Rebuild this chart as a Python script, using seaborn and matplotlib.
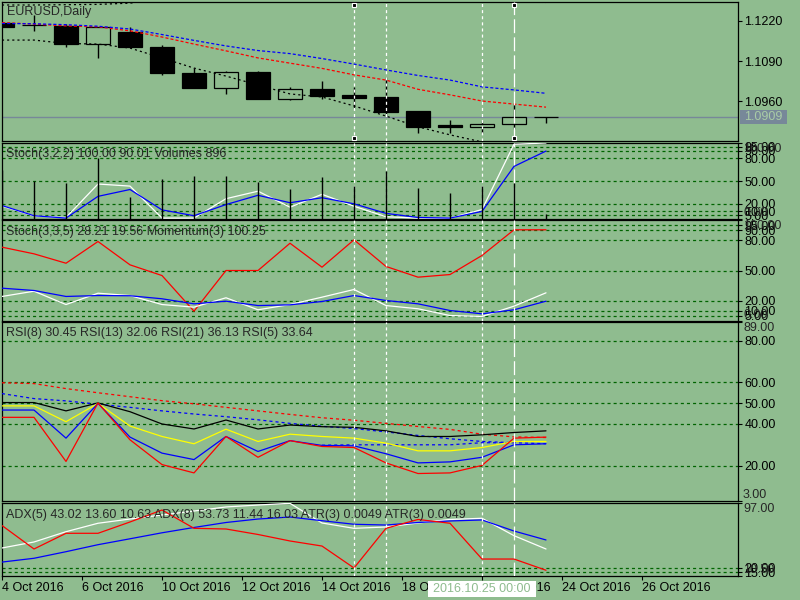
import matplotlib
matplotlib.use("Agg")
import matplotlib.pyplot as plt
from matplotlib.patches import Rectangle
import numpy as np
import seaborn as sns

BG = "#8fbc8f"
LEVEL = "#006400"
FS = 9

sns.set_theme(style="ticks", rc={"axes.facecolor": BG, "figure.facecolor": BG})
plt.rcParams["font.family"] = ["Liberation Sans", "DejaVu Sans"]
plt.rcParams["font.size"] = FS
plt.rcParams["lines.scale_dashes"] = False

#################
### Data ###
#################

# daily bars, bar 0 = 4 Oct 2016
bars = np.arange(18)

# EURUSD Daily candles
opens  = [1.1214, 1.1207, 1.1204, 1.1146, 1.1184, 1.1136, 1.1051, 1.1003, 1.1054,
          1.0965, 1.0998, 1.0980, 1.0973, 1.0927, 1.0882, 1.0876, 1.0886, 1.0909]
highs  = [1.1216, 1.1240, 1.1210, 1.1202, 1.1200, 1.1142, 1.1066, 1.1058, 1.1058,
          1.1005, 1.1025, 1.1005, 1.1037, 1.0927, 1.0898, 1.0896, 1.0949, 1.0909]
lows   = [1.1199, 1.1188, 1.1136, 1.1101, 1.1136, 1.1045, 1.1003, 1.0984, 1.0967,
          1.0963, 1.0967, 1.0936, 1.0911, 1.0857, 1.0855, 1.0856, 1.0870, 1.0890]
closes = [1.1201, 1.1207, 1.1146, 1.1200, 1.1136, 1.1052, 1.1003, 1.1054, 1.0967,
          1.0998, 1.0977, 1.0971, 1.0924, 1.0876, 1.0876, 1.0885, 1.0908, 1.0909]
ma_blue = [1.1212, 1.1211, 1.1208, 1.1203, 1.1194, 1.1176, 1.1157, 1.1139, 1.1124,
           1.1114, 1.1098, 1.1080, 1.1061, 1.1043, 1.1028, 1.1006, 1.0996, 1.0985]
ma_red  = [1.1215, 1.1210, 1.1204, 1.1201, 1.1188, 1.1168, 1.1145, 1.1123, 1.1100,
           1.1083, 1.1066, 1.1045, 1.1028, 1.0998, 1.0980, 1.0960, 1.0950, 1.0940]
band_up = [1.1272, 1.1272, 1.1273, 1.1274, 1.1278, 1.1292, 1.1300, 1.1305, 1.1310,
           1.1312, 1.1310, 1.1308, 1.1305, 1.1300, 1.1296, 1.1290, 1.1285, 1.1280]
band_lo = [1.1158, 1.1158, 1.1147, 1.1145, 1.1132, 1.1100, 1.1067, 1.1041, 1.1012,
           1.0983, 1.0973, 1.0944, 1.0911, 1.0876, 1.0850, 1.0827, 1.0812, 1.0800]
bid = 1.0909
price_ticks = [1.0960, 1.1090, 1.1220]

# Stoch(3,2,2) + Volumes
stoch1_main = [17, 4, 2, 46, 43.3, 1.2, 1.2, 26.7, 36.6, 15.5, 32.5, 16.8, 3, 1.2, 1.2, 12.4, 98.4, 100]
stoch1_sig  = [17.7, 4.3, 1.2, 29.8, 38.8, 12, 4.3, 19, 31.2, 21.4, 28, 20, 7.4, 2, 1.2, 10, 69.2, 89.4]
volumes = [9000, 6990, 6680, 11170, 4100, 7360, 7970, 7970, 6860, 5520, 7670, 6070, 8830,
           5760, 4840, 6070, 6570, 896]

# Stoch(3,3,5) + Momentum(3)
stoch2_main = [24.3, 29.5, 16.3, 27.5, 25.2, 16.3, 13.7, 23, 11.1, 16.3, 23.6, 31.2, 15.3, 12.1, 5.4, 4.5, 14.7, 27.9]
stoch2_sig  = [32.5, 30.2, 24.3, 25.2, 25, 22, 17, 19.6, 15.3, 16, 19.3, 25.2, 20.3, 17, 10.4, 7.1, 11.1, 19.6]
momentum    = [73.1, 66.5, 57.2, 78.7, 55.6, 45, 9.7, 50, 50, 77, 53.3, 80.4, 54, 43.4, 46, 64.9, 90.3, 90.3]
stoch_levels = [5, 10, 20, 50, 80, 90, 95]

# RSI
rsi5  = [43.2, 43.2, 22, 50.1, 32.4, 20.5, 16.5, 34, 24, 32, 29.2, 28.7, 21.3, 16.2, 16.5, 20.1, 33.2, 33.7]
rsi8  = [46.7, 46.7, 33.2, 49.9, 33.7, 26, 22.9, 34, 26.8, 32, 29.7, 29.5, 25.7, 21.3, 21.8, 24, 30, 30.5]
rsi13 = [48.7, 48.7, 41.1, 49.9, 39, 34, 30.5, 37.5, 31.6, 35.1, 34, 33.2, 30.8, 27.1, 27.1, 28.7, 31.6, 31.6]
rsi21 = [50.3, 50.3, 46.3, 50.1, 45.9, 40, 37.6, 41.9, 37.6, 39.5, 38.7, 38.4, 36.7, 34, 34, 34.8, 35.9, 36.7]
rsi_sig_red  = [59.8, 59.4, 57, 55, 53.1, 51.2, 49.7, 48, 46.3, 44.6, 43, 41.8, 40.3, 38.8, 37.4, 35.1, 33.8, 33.5]
rsi_sig_blue = [54.6, 52.2, 51.1, 49.5, 48, 46.3, 44.8, 43.5, 42, 40.3, 38.9, 37.8, 36.2, 34.5, 32.9, 31.6, 31, 30.5]
rsi_sig_blue2_bars = [10, 11, 12, 13, 14, 15, 16]
rsi_sig_blue2 = [29.8, 30, 30, 30, 30, 31, 31]
rsi_levels = [20, 40, 50, 60, 80]

# ADX
adx_red   = [70.3, 42.5, 61.1, 61.1, 74.5, 88.7, 67, 66.2, 59.7, 52, 46, 20, 67, 77.5, 73, 30.6, 30.6, 17.3]
adx_white = [43.7, 50.8, 63, 73, 78, 82.8, 87.5, 92.3, 94.6, 96.6, 73.3, 67, 68.6, 73.3, 77.5, 78.9, 58.3, 42.5]
adx_blue  = [27, 31.5, 39.3, 47.6, 54.6, 61.7, 68, 73.9, 78, 80.4, 76, 71.8, 70.9, 73.9, 75.7, 76.9, 63.8, 53.2]
adx_levels = [15, 20]

date_ticks = [0, 2.5, 5, 7.5, 10, 12.5, 15, 17.5, 20]
date_labels = ["4 Oct 2016", "6 Oct 2016", "10 Oct 2016", "12 Oct 2016", "14 Oct 2016",
               "18 Oct 2016", "20 Oct 2016", "24 Oct 2016", "26 Oct 2016"]

#################
### Figure ###
#################

fig = plt.figure(figsize=(8, 6), dpi=100)


def panel(top, bottom):
    return fig.add_axes([2 / 800, 1 - bottom / 600, 736 / 800, (bottom - top) / 600])


ax1 = panel(2, 141)
ax2 = panel(143, 219)
ax3 = panel(220, 321)
ax4 = panel(322, 501)
ax5 = panel(503, 576)
axes = [ax1, ax2, ax3, ax4, ax5]

ax2v = ax2.twinx()


def line(ax, x, y, color, dash=None, lw=0.9, z=4):
    sns.lineplot(x=x, y=y, ax=ax, color=color, linewidth=lw, errorbar=None, zorder=z)
    if dash:
        ax.lines[-1].set_dashes(dash)


# price panel
o = np.array(opens); c = np.array(closes)
bull = c > o
ax1.vlines(bars, lows, highs, color="black", lw=1, zorder=2)
ax1.bar(bars, np.abs(c - o), bottom=np.minimum(o, c), width=0.72,
        color=np.where(bull, BG, "black"), edgecolor="black", linewidth=0.9, zorder=3)
line(ax1, bars, band_up, "black", dash=(1.5, 2.2))
line(ax1, bars, band_lo, "black", dash=(1.5, 2.2))
line(ax1, bars, ma_red, "red", dash=(2.2, 1.5))
line(ax1, bars, ma_blue, "blue", dash=(2.2, 1.5))
ax1.axhline(bid, color="#778899", lw=1, zorder=1)
ax1.add_patch(Rectangle((1.0027, bid - 0.00228), 47 / 736, 0.00455,
                        transform=ax1.get_yaxis_transform(), fc="#778899", ec="none",
                        clip_on=False, zorder=5))
ax1.text(1.0 + 6 / 736, bid, "1.0909", transform=ax1.get_yaxis_transform(),
         va="center", ha="left", color="#a9cca6", zorder=6, clip_on=False, fontsize=FS)
ax1.set_ylim(1.0830, 1.128175)
ax1.set_yticks(price_ticks)
ax1.set_yticklabels([f"{v:.4f}" for v in price_ticks])

# Stoch(3,2,2) + volumes
ax2v.vlines(bars, 0, volumes, color="black", lw=1)
ax2v.set_ylim(0, 14000)
ax2v.axis("off")
line(ax2, bars, stoch1_main, "white")
line(ax2, bars, stoch1_sig, "blue")

# Stoch(3,3,5) + momentum
line(ax3, bars, momentum, "red")
line(ax3, bars, stoch2_main, "white")
line(ax3, bars, stoch2_sig, "blue")

# RSI
line(ax4, bars, rsi_sig_red, "red", dash=(2.2, 2.2))
line(ax4, bars, rsi_sig_blue, "blue", dash=(2.2, 2.2))
line(ax4, rsi_sig_blue2_bars, rsi_sig_blue2, "blue", dash=(2.2, 2.2))
line(ax4, bars, rsi21, "black")
line(ax4, bars, rsi13, "yellow")
line(ax4, bars, rsi8, "blue")
line(ax4, bars, rsi5, "red")

# ADX
line(ax5, bars, adx_white, "white")
line(ax5, bars, adx_blue, "blue")
line(ax5, bars, adx_red, "red")

# scales, levels and right-hand labels
scales = [(ax2, 0, 100, stoch_levels, "100.00", "0.00"),
          (ax3, 0, 100, stoch_levels, "100.00", "0.00"),
          (ax4, 3, 89, rsi_levels, "89.00", "3.00"),
          (ax5, 10.5, 97, adx_levels, "97.00", "10.50")]
for ax, lo, hi, levels, top_lab, bot_lab in scales:
    ax.set_ylim(lo, hi)
    for lv in levels:
        ax.axhline(lv, color=LEVEL, lw=0.9, dashes=(2.2, 2.2), zorder=1)
    ax.set_yticks(levels + [lo, hi])
    ax.set_yticklabels([f"{v:.2f}" for v in levels] + ["", ""])
    ax.text(1.0 + 5 / 736, 1.0, top_lab, transform=ax.transAxes, ha="left", va="top",
            fontsize=FS, clip_on=False)
    ax.text(1.0 + 5 / 736, 0.0, bot_lab, transform=ax.transAxes, ha="left", va="bottom",
            fontsize=FS, clip_on=False)

for ax in axes:
    ax.set_facecolor(BG)
    ax.set_xlim(0, 23)
    ax.set_xlabel("")
    ax.set_ylabel("")
    ax.grid(False)
    for s in ax.spines.values():
        s.set_color("black")
        s.set_linewidth(0.9)
    ax.yaxis.tick_right()
    ax.tick_params(axis="y", left=False, labelleft=False, right=True, labelright=True,
                   length=3, width=0.8, pad=1.5, colors="black", labelsize=FS)
    ax.tick_params(axis="x", bottom=False, labelbottom=False)
    # vertical lines
    for b in [11, 12, 15]:
        ax.axvline(b, color="white", lw=0.9, dashes=(2.2, 2.2), zorder=5)
    ax.axvline(16, color="white", lw=0.9, dashes=(10, 3), zorder=5)

ax5.set_xticks(date_ticks)
ax5.set_xticklabels(date_labels, ha="left")
ax5.tick_params(axis="x", bottom=True, labelbottom=True, length=3, width=0.8, pad=1.5,
                colors="black", labelsize=FS)

# selected vertical line handles
ax1.plot([11, 11, 16, 16], [0.978, 0.022, 0.978, 0.022], transform=ax1.get_xaxis_transform(),
         ls="none", marker="s", ms=3.5, mfc="black", mec="white", mew=0.8, clip_on=False, zorder=7)

# panel captions
fig.text(7 / 800, 1 - 12 / 600, "EURUSD,Daily", va="center", fontsize=FS)
fig.text(6 / 800, 1 - 154 / 600, "Stoch(3,2,2) 100.00 90.01 Volumes 896", va="center", fontsize=FS)
fig.text(6 / 800, 1 - 232 / 600, "Stoch(3,3,5) 28.21 19.56 Momentum(3) 100.25", va="center", fontsize=FS)
fig.text(6 / 800, 1 - 333 / 600, "RSI(8) 30.45 RSI(13) 32.06 RSI(21) 36.13 RSI(5) 33.64",
         va="center", fontsize=FS)
fig.text(6 / 800, 1 - 515 / 600,
         "ADX(5) 43.02 13.60 10.63 ADX(8) 53.73 11.44 16.03 ATR(3) 0.0049 ATR(3) 0.0049",
         va="center", fontsize=FS)

# crosshair date box
fig.add_artist(Rectangle((428 / 800, 1 - 597 / 600), 108 / 800, 16 / 600,
                         transform=fig.transFigure, fc="white", ec="none", zorder=2))
fig.text(482 / 800, 1 - 589 / 600, "2016.10.25 00:00", ha="center", va="center",
         color=BG, fontsize=FS, zorder=3)

fig.savefig("out.png", dpi=100, facecolor=BG)
